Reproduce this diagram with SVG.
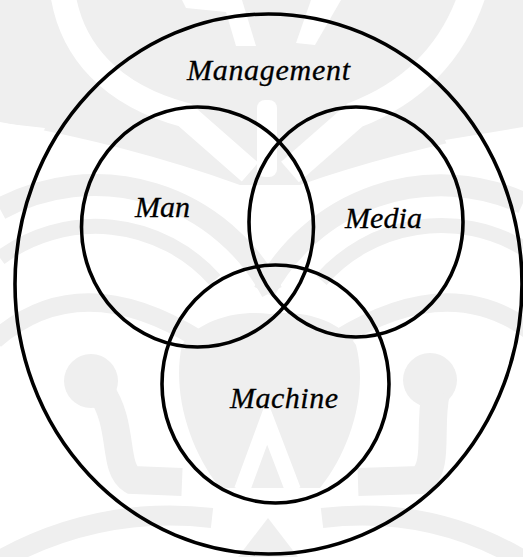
<svg xmlns="http://www.w3.org/2000/svg" width="523" height="557" viewBox="0 0 523 557">
  <style>
    .wm { fill: #efefef; stroke: none; }
    .wms { fill: none; stroke: #efefef; }
    .wmw { fill: #ffffff; stroke: none; }
    .wmws { fill: none; stroke: #ffffff; }
    .set { fill: none; stroke: #000000; stroke-width: 3.6; }
    .lbl { font-family: "Liberation Serif", "Times New Roman", serif; font-style: italic; font-size: 30px; fill: #000000; stroke: #000000; stroke-width: 0.3; }
  </style>
  <rect width="523" height="557" fill="#ffffff"/>
  <g id="watermark">
    <path class="wm" d="M0,0 H523 V128 Q 400,150 300,185 L 240,185 Q 130,145 0,122 Z"/>
    <path class="wmws" stroke-width="25" d="M 63,-5 C 72,50 110,95 185,115 L 250,172"/>
    <path class="wmws" stroke-width="27" d="M 472,-5 C 455,45 420,90 355,115 L 290,172"/>
    <path class="wmw" d="M182,0 L242,0 L256,46 L236,46 L226,12 L186,8 Z"/>
    <path class="wmw" d="M311,0 L341,0 L315,45 L296,43 Z"/>
    <rect class="wmw" x="257" y="100" width="20" height="77" rx="8"/>
    <path class="wmw" d="M0,123 L45,128 L40,140 L0,140 Z"/>
    <path class="wmw" d="M523,127 L445,140 L450,152 L523,150 Z"/>
    <path class="wms" stroke-width="22" d="M 0,209 A 200 200 0 0 1 272,292"/>
    <path class="wms" stroke-width="22" d="M 523,203 A 200 200 0 0 0 264,292"/>
    <path class="wms" stroke-width="15" d="M 0,258 A 160 160 0 0 1 215,280"/>
    <path class="wms" stroke-width="15" d="M 523,248 A 160 160 0 0 0 321,280"/>
    <path class="wms" stroke-width="18" d="M -5,340 Q 80,265 200,340"/>
    <path class="wms" stroke-width="18" d="M 541,340 Q 456,265 336,340"/>
    <circle class="wm" cx="91" cy="381" r="27"/>
    <path class="wms" stroke-width="28" d="M 100,390 C 125,425 112,468 132,480 L 182,482"/>
    <circle class="wm" cx="430" cy="380" r="27"/>
    <path class="wms" stroke-width="28" d="M 436,392 C 428,428 440,468 420,480 L 358,482"/>
    <path class="wm" d="M 182,345 C 200,318 240,310 270,314 C 300,310 338,318 356,345 C 368,390 352,448 320,488 L 220,488 C 188,448 172,390 182,345 Z"/>
    <path class="wmws" stroke-width="16" d="M 242,490 L 267,422 L 293,490"/>
    <path class="wms" stroke-width="20" d="M 0,560 Q 100,505 212,518"/>
    <path class="wms" stroke-width="20" d="M 523,560 Q 430,505 322,518"/>
    <path class="wm" d="M 238,557 L 268,518 L 298,557 Z"/>
  </g>
  <g id="connectors"></g>
  <g id="management">
    <ellipse class="set" cx="268.5" cy="284" rx="253.5" ry="270"/>
    <text class="lbl" x="187" y="80" textLength="163" lengthAdjust="spacing">Management</text>
  </g>
  <g id="man">
    <ellipse class="set" cx="197.5" cy="227" rx="116" ry="120"/>
    <text class="lbl" x="135" y="217" textLength="55" lengthAdjust="spacing">Man</text>
  </g>
  <g id="media">
    <ellipse class="set" cx="356" cy="222" rx="107" ry="115"/>
    <text class="lbl" x="345" y="228" textLength="77" lengthAdjust="spacing">Media</text>
  </g>
  <g id="machine">
    <ellipse class="set" cx="275.5" cy="384" rx="113.5" ry="119"/>
    <text class="lbl" x="230" y="408" textLength="108" lengthAdjust="spacing">Machine</text>
  </g>
</svg>
